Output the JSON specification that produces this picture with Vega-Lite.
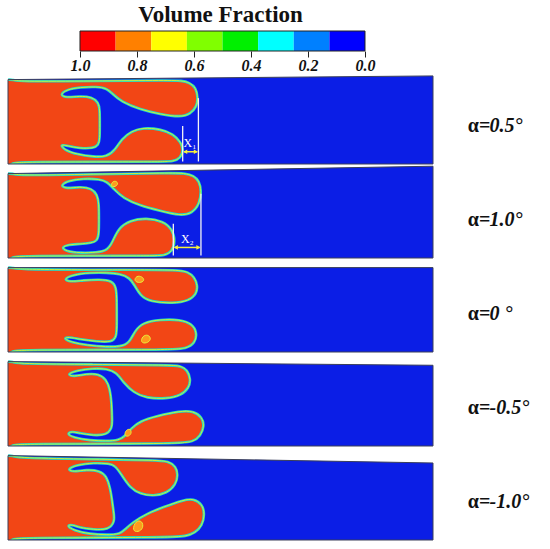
{
  "$schema": "https://vega.github.io/schema/vega-lite/v6.json",
  "background": "white",
  "padding": {"left": 6, "top": 3, "right": 0, "bottom": 0},
  "config": {"view": {"stroke": null}, "mark": {"invalid": null}},
  "bounds": "flush",
  "spacing": 21,
  "vconcat": [
    {
      "width": 425,
      "height": 20,
      "title": {"text": "Volume Fraction", "anchor": "middle", "font": "Liberation Serif", "fontSize": 23, "fontWeight": "bold", "color": "#111", "offset": 4},
      "layer": [
        {
          "data": {"values": [
            {"lo": 0.875, "hi": 1.0, "band": 1},
            {"lo": 0.75, "hi": 0.875, "band": 2},
            {"lo": 0.625, "hi": 0.75, "band": 3},
            {"lo": 0.5, "hi": 0.625, "band": 4},
            {"lo": 0.375, "hi": 0.5, "band": 5},
            {"lo": 0.25, "hi": 0.375, "band": 6},
            {"lo": 0.125, "hi": 0.25, "band": 7},
            {"lo": 0.0, "hi": 0.125, "band": 8}
          ]},
          "mark": {"type": "rect"},
          "encoding": {
            "x": {"field": "lo", "type": "quantitative",
                  "scale": {"domain": [-0.2386, 1.2526], "reverse": true, "nice": false, "zero": false},
                  "axis": {"values": [0, 0.2, 0.4, 0.6, 0.8, 1], "format": ".1f", "domain": false, "grid": false, "title": null,
                           "tickSize": 6, "tickColor": "#222", "labelPadding": 0,
                           "labelFont": "Liberation Serif", "labelFontSize": 16, "labelFontWeight": "bold", "labelFontStyle": "italic", "labelColor": "#111"}},
            "x2": {"field": "hi"},
            "color": {"field": "band", "type": "ordinal",
                      "scale": {"domain": [1, 2, 3, 4, 5, 6, 7, 8], "range": ["#ff0000", "#ff8000", "#ffff00", "#80ff00", "#00f000", "#00ffff", "#0080ff", "#0000ff"]},
                      "legend": null}
          }
        },
        {
          "data": {"values": [{"lo": 0.0, "hi": 1.0}]},
          "mark": {"type": "rect", "filled": false, "stroke": "#222", "strokeWidth": 1},
          "encoding": {
            "x": {"field": "lo", "type": "quantitative"},
            "x2": {"field": "hi"}
          }
        }
      ]
    },
    {
      "data": {"values": [
        {"c":"A","k":"N","t":"0.5°"},{"c":"B","k":"N","t":"1.0°"},{"c":"C","k":"N","t":"0 °"},{"c":"D","k":"N","t":"-0.5°"},{"c":"E","k":"N","t":"-1.0°"},

        {"c":"A","k":"W","i":1,"x":0,"y":0},{"c":"A","k":"W","i":2,"x":100,"y":0},{"c":"A","k":"W","i":3,"x":100,"y":20.87},{"c":"A","k":"W","i":4,"x":0,"y":20},
        {"c":"B","k":"W","i":1,"x":0,"y":0},{"c":"B","k":"W","i":2,"x":100,"y":0},{"c":"B","k":"W","i":3,"x":100,"y":21.75},{"c":"B","k":"W","i":4,"x":0,"y":20},
        {"c":"C","k":"W","i":1,"x":0,"y":0},{"c":"C","k":"W","i":2,"x":100,"y":0},{"c":"C","k":"W","i":3,"x":100,"y":20},{"c":"C","k":"W","i":4,"x":0,"y":20},
        {"c":"D","k":"W","i":1,"x":0,"y":0},{"c":"D","k":"W","i":2,"x":100,"y":0},{"c":"D","k":"W","i":3,"x":100,"y":19.13},{"c":"D","k":"W","i":4,"x":0,"y":20},
        {"c":"E","k":"W","i":1,"x":0,"y":0},{"c":"E","k":"W","i":2,"x":100,"y":0},{"c":"E","k":"W","i":3,"x":100,"y":18.25},{"c":"E","k":"W","i":4,"x":0,"y":20},

        {"c":"A","k":"L","i":1,"x":-1,"y":-1},{"c":"A","k":"L","i":2,"x":-1,"y":9},{"c":"A","k":"L","i":3,"x":-1,"y":19.8},{"c":"A","k":"L","i":4,"x":-0.3,"y":20},
        {"c":"A","k":"L","i":5,"x":1.2,"y":20},{"c":"A","k":"L","i":6,"x":2.2,"y":19.52},{"c":"A","k":"L","i":7,"x":20,"y":19.67},{"c":"A","k":"L","i":8,"x":38,"y":19.83},
        {"c":"A","k":"L","i":9,"x":40.8,"y":19.75},{"c":"A","k":"L","i":10,"x":42.7,"y":19.3},{"c":"A","k":"L","i":11,"x":44.2,"y":18.1},{"c":"A","k":"L","i":12,"x":44.7,"y":15.7},
        {"c":"A","k":"L","i":13,"x":44.4,"y":13.6},{"c":"A","k":"L","i":14,"x":42.9,"y":11.8},{"c":"A","k":"L","i":15,"x":40.5,"y":11.1},{"c":"A","k":"L","i":16,"x":35.8,"y":11.8},
        {"c":"A","k":"L","i":17,"x":31.1,"y":12.9},{"c":"A","k":"L","i":18,"x":26.6,"y":14.8},{"c":"A","k":"L","i":19,"x":24.6,"y":16.6},{"c":"A","k":"L","i":20,"x":23.3,"y":17.9},
        {"c":"A","k":"L","i":21,"x":20.9,"y":18.35},{"c":"A","k":"L","i":22,"x":16.9,"y":18.15},{"c":"A","k":"L","i":23,"x":14.0,"y":17.7},{"c":"A","k":"L","i":24,"x":12.1,"y":16.4},
        {"c":"A","k":"L","i":25,"x":13.7,"y":15.7},{"c":"A","k":"L","i":26,"x":16.9,"y":16.1},{"c":"A","k":"L","i":27,"x":19.7,"y":15.9},{"c":"A","k":"L","i":28,"x":21.3,"y":14.6},
        {"c":"A","k":"L","i":29,"x":21.6,"y":12.8},{"c":"A","k":"L","i":30,"x":21.6,"y":9.6},{"c":"A","k":"L","i":31,"x":21.6,"y":5.9},{"c":"A","k":"L","i":32,"x":21.3,"y":4.5},
        {"c":"A","k":"L","i":33,"x":20.1,"y":3.7},{"c":"A","k":"L","i":34,"x":16.9,"y":3.7},{"c":"A","k":"L","i":35,"x":14.0,"y":4.3},{"c":"A","k":"L","i":36,"x":12.2,"y":4.7},
        {"c":"A","k":"L","i":37,"x":13.3,"y":3.3},{"c":"A","k":"L","i":38,"x":16.2,"y":2.3},{"c":"A","k":"L","i":39,"x":20.1,"y":1.7},{"c":"A","k":"L","i":40,"x":23.2,"y":1.7},
        {"c":"A","k":"L","i":41,"x":25.2,"y":3.3},{"c":"A","k":"L","i":42,"x":26.7,"y":5.9},{"c":"A","k":"L","i":43,"x":29.1,"y":7.8},{"c":"A","k":"L","i":44,"x":31.8,"y":8.6},
        {"c":"A","k":"L","i":45,"x":35.8,"y":8.3},{"c":"A","k":"L","i":46,"x":38.9,"y":7.1},{"c":"A","k":"L","i":47,"x":40.7,"y":5.1},{"c":"A","k":"L","i":48,"x":41.3,"y":3.3},
        {"c":"A","k":"L","i":49,"x":40.6,"y":1.4},{"c":"A","k":"L","i":50,"x":38.9,"y":0.6},{"c":"A","k":"L","i":51,"x":36,"y":0.5},{"c":"A","k":"L","i":52,"x":2.2,"y":0.5},
        {"c":"A","k":"L","i":53,"x":1.2,"y":0.2},{"c":"A","k":"L","i":54,"x":0,"y":-0.6},

        {"c":"B","k":"L","i":1,"x":-1,"y":-1},{"c":"B","k":"L","i":2,"x":-1,"y":9},{"c":"B","k":"L","i":3,"x":-1,"y":19.8},{"c":"B","k":"L","i":4,"x":-0.3,"y":20},
        {"c":"B","k":"L","i":5,"x":1.2,"y":20.02},{"c":"B","k":"L","i":6,"x":2.2,"y":19.54},{"c":"B","k":"L","i":7,"x":20,"y":19.85},{"c":"B","k":"L","i":8,"x":38,"y":20.16},
        {"c":"B","k":"L","i":9,"x":41.5,"y":20.1},{"c":"B","k":"L","i":10,"x":43.7,"y":19.5},{"c":"B","k":"L","i":11,"x":45.0,"y":18.2},{"c":"B","k":"L","i":12,"x":45.5,"y":15.9},
        {"c":"B","k":"L","i":13,"x":45.1,"y":12.9},{"c":"B","k":"L","i":14,"x":43.4,"y":10.6},{"c":"B","k":"L","i":15,"x":40.5,"y":10.0},{"c":"B","k":"L","i":16,"x":35.8,"y":11.2},
        {"c":"B","k":"L","i":17,"x":31.1,"y":12.4},{"c":"B","k":"L","i":18,"x":27.1,"y":14.2},{"c":"B","k":"L","i":19,"x":24.8,"y":16.4},{"c":"B","k":"L","i":20,"x":23.4,"y":18.0},
        {"c":"B","k":"L","i":21,"x":21.6,"y":18.7},{"c":"B","k":"L","i":22,"x":17.7,"y":18.8},{"c":"B","k":"L","i":23,"x":14.4,"y":18.4},{"c":"B","k":"L","i":24,"x":12.2,"y":17.2},
        {"c":"B","k":"L","i":25,"x":13.7,"y":16.4},{"c":"B","k":"L","i":26,"x":16.9,"y":16.9},{"c":"B","k":"L","i":27,"x":19.7,"y":16.5},{"c":"B","k":"L","i":28,"x":21.0,"y":15.0},
        {"c":"B","k":"L","i":29,"x":21.4,"y":12.9},{"c":"B","k":"L","i":30,"x":21.4,"y":9},{"c":"B","k":"L","i":31,"x":21.4,"y":5.6},{"c":"B","k":"L","i":32,"x":20.9,"y":4.0},
        {"c":"B","k":"L","i":33,"x":19.7,"y":3.6},{"c":"B","k":"L","i":34,"x":16.9,"y":3.3},{"c":"B","k":"L","i":35,"x":14.2,"y":3.2},{"c":"B","k":"L","i":36,"x":12.5,"y":2.5},
        {"c":"B","k":"L","i":37,"x":13.7,"y":1.6},{"c":"B","k":"L","i":38,"x":16.9,"y":1.2},{"c":"B","k":"L","i":39,"x":20.9,"y":1.3},{"c":"B","k":"L","i":40,"x":23.4,"y":1.8},
        {"c":"B","k":"L","i":41,"x":24.6,"y":3.8},{"c":"B","k":"L","i":42,"x":26.0,"y":7.1},{"c":"B","k":"L","i":43,"x":28.7,"y":8.9},{"c":"B","k":"L","i":44,"x":32.6,"y":9.5},
        {"c":"B","k":"L","i":45,"x":36.5,"y":8.7},{"c":"B","k":"L","i":46,"x":38.6,"y":6.9},{"c":"B","k":"L","i":47,"x":39.4,"y":4.1},{"c":"B","k":"L","i":48,"x":38.6,"y":1.5},
        {"c":"B","k":"L","i":49,"x":36.9,"y":0.6},{"c":"B","k":"L","i":50,"x":34,"y":0.5},{"c":"B","k":"L","i":51,"x":2.2,"y":0.5},{"c":"B","k":"L","i":52,"x":1.2,"y":0.2},
        {"c":"B","k":"L","i":53,"x":0,"y":-0.6},

        {"c":"C","k":"L","i":1,"x":-1,"y":-1},{"c":"C","k":"L","i":2,"x":-1,"y":9},{"c":"C","k":"L","i":3,"x":-1,"y":19.8},{"c":"C","k":"L","i":4,"x":-0.3,"y":20},
        {"c":"C","k":"L","i":5,"x":1.2,"y":20},{"c":"C","k":"L","i":6,"x":2.2,"y":19.5},{"c":"C","k":"L","i":7,"x":30,"y":19.5},{"c":"C","k":"L","i":8,"x":40,"y":19.45},
        {"c":"C","k":"L","i":9,"x":42.3,"y":19.0},{"c":"C","k":"L","i":10,"x":43.9,"y":17.7},{"c":"C","k":"L","i":11,"x":44.6,"y":15.8},{"c":"C","k":"L","i":12,"x":44.4,"y":13.8},
        {"c":"C","k":"L","i":13,"x":42.5,"y":12.1},{"c":"C","k":"L","i":14,"x":38.9,"y":11.5},{"c":"C","k":"L","i":15,"x":33.4,"y":11.9},{"c":"C","k":"L","i":16,"x":31.1,"y":13.4},
        {"c":"C","k":"L","i":17,"x":29.8,"y":15.8},{"c":"C","k":"L","i":18,"x":28.6,"y":17.6},{"c":"C","k":"L","i":19,"x":26.4,"y":18.5},{"c":"C","k":"L","i":20,"x":23.2,"y":18.8},
        {"c":"C","k":"L","i":21,"x":19.3,"y":18.8},{"c":"C","k":"L","i":22,"x":15.2,"y":18.3},{"c":"C","k":"L","i":23,"x":13.0,"y":17.2},{"c":"C","k":"L","i":24,"x":14.6,"y":16.6},
        {"c":"C","k":"L","i":25,"x":17.7,"y":17.0},{"c":"C","k":"L","i":26,"x":21.6,"y":17.2},{"c":"C","k":"L","i":27,"x":24.4,"y":16.9},{"c":"C","k":"L","i":28,"x":25.5,"y":15.4},
        {"c":"C","k":"L","i":29,"x":25.6,"y":12},{"c":"C","k":"L","i":30,"x":25.6,"y":7},{"c":"C","k":"L","i":31,"x":25.6,"y":3.6},{"c":"C","k":"L","i":32,"x":24.4,"y":2.3},
        {"c":"C","k":"L","i":33,"x":20.9,"y":2.5},{"c":"C","k":"L","i":34,"x":16.9,"y":3.0},{"c":"C","k":"L","i":35,"x":14.2,"y":3.6},{"c":"C","k":"L","i":36,"x":13.0,"y":3.2},
        {"c":"C","k":"L","i":37,"x":15.0,"y":2.3},{"c":"C","k":"L","i":38,"x":18.5,"y":1.6},{"c":"C","k":"L","i":39,"x":23.2,"y":1.2},{"c":"C","k":"L","i":40,"x":26.4,"y":1.3},
        {"c":"C","k":"L","i":41,"x":28.5,"y":2.0},{"c":"C","k":"L","i":42,"x":29.8,"y":5.0},{"c":"C","k":"L","i":43,"x":31.8,"y":7.0},{"c":"C","k":"L","i":44,"x":35.8,"y":7.7},
        {"c":"C","k":"L","i":45,"x":40.5,"y":7.7},{"c":"C","k":"L","i":46,"x":43.3,"y":6.7},{"c":"C","k":"L","i":47,"x":44.5,"y":4.6},{"c":"C","k":"L","i":48,"x":44.0,"y":2.1},
        {"c":"C","k":"L","i":49,"x":42.0,"y":0.8},{"c":"C","k":"L","i":50,"x":38,"y":0.5},{"c":"C","k":"L","i":51,"x":2.2,"y":0.5},{"c":"C","k":"L","i":52,"x":1.2,"y":0.2},
        {"c":"C","k":"L","i":53,"x":0,"y":-0.6},

        {"c":"D","k":"L","i":1,"x":-1,"y":-1},{"c":"D","k":"L","i":2,"x":-1,"y":9},{"c":"D","k":"L","i":3,"x":-1,"y":19.8},{"c":"D","k":"L","i":4,"x":-0.3,"y":20},
        {"c":"D","k":"L","i":5,"x":1.2,"y":19.99},{"c":"D","k":"L","i":6,"x":2.2,"y":19.48},{"c":"D","k":"L","i":7,"x":20,"y":19.33},{"c":"D","k":"L","i":8,"x":38,"y":19.17},
        {"c":"D","k":"L","i":9,"x":40.7,"y":19.0},{"c":"D","k":"L","i":10,"x":42.2,"y":18.0},{"c":"D","k":"L","i":11,"x":43.0,"y":15.8},{"c":"D","k":"L","i":12,"x":42.6,"y":13.8},
        {"c":"D","k":"L","i":13,"x":40.6,"y":11.9},{"c":"D","k":"L","i":14,"x":37.3,"y":11.2},{"c":"D","k":"L","i":15,"x":32.6,"y":11.3},{"c":"D","k":"L","i":16,"x":29.5,"y":12.7},
        {"c":"D","k":"L","i":17,"x":27.1,"y":15.1},{"c":"D","k":"L","i":18,"x":25.6,"y":17.4},{"c":"D","k":"L","i":19,"x":23.2,"y":18.3},{"c":"D","k":"L","i":20,"x":20.1,"y":18.4},
        {"c":"D","k":"L","i":21,"x":16.2,"y":17.9},{"c":"D","k":"L","i":22,"x":13.8,"y":17.0},{"c":"D","k":"L","i":23,"x":15.4,"y":16.4},{"c":"D","k":"L","i":24,"x":18.5,"y":17.1},
        {"c":"D","k":"L","i":25,"x":21.3,"y":17.1},{"c":"D","k":"L","i":26,"x":23.1,"y":15.8},{"c":"D","k":"L","i":27,"x":24.0,"y":13.5},{"c":"D","k":"L","i":28,"x":24.4,"y":10},
        {"c":"D","k":"L","i":29,"x":24.5,"y":6},{"c":"D","k":"L","i":30,"x":24.5,"y":4.3},{"c":"D","k":"L","i":31,"x":23.2,"y":2.6},{"c":"D","k":"L","i":32,"x":20.1,"y":2.5},
        {"c":"D","k":"L","i":33,"x":16.9,"y":3.0},{"c":"D","k":"L","i":34,"x":15.0,"y":3.5},{"c":"D","k":"L","i":35,"x":13.8,"y":2.9},{"c":"D","k":"L","i":36,"x":15.4,"y":2.0},
        {"c":"D","k":"L","i":37,"x":19.3,"y":1.3},{"c":"D","k":"L","i":38,"x":23.2,"y":1.2},{"c":"D","k":"L","i":39,"x":26.0,"y":1.3},{"c":"D","k":"L","i":40,"x":27.6,"y":2.4},
        {"c":"D","k":"L","i":41,"x":28.9,"y":4.1},{"c":"D","k":"L","i":42,"x":31.1,"y":5.9},{"c":"D","k":"L","i":43,"x":35.0,"y":7.1},{"c":"D","k":"L","i":44,"x":40.5,"y":8.3},
        {"c":"D","k":"L","i":45,"x":43.6,"y":8.3},{"c":"D","k":"L","i":46,"x":45.7,"y":6.8},{"c":"D","k":"L","i":47,"x":46.2,"y":4.8},{"c":"D","k":"L","i":48,"x":45.3,"y":2.4},
        {"c":"D","k":"L","i":49,"x":43.6,"y":1.0},{"c":"D","k":"L","i":50,"x":40,"y":0.5},{"c":"D","k":"L","i":51,"x":2.2,"y":0.5},{"c":"D","k":"L","i":52,"x":1.2,"y":0.2},
        {"c":"D","k":"L","i":53,"x":0,"y":-0.6},

        {"c":"E","k":"L","i":1,"x":-1,"y":-1},{"c":"E","k":"L","i":2,"x":-1,"y":9},{"c":"E","k":"L","i":3,"x":-1,"y":19.8},{"c":"E","k":"L","i":4,"x":-0.3,"y":20},
        {"c":"E","k":"L","i":5,"x":1.2,"y":19.98},{"c":"E","k":"L","i":6,"x":2.2,"y":19.46},{"c":"E","k":"L","i":7,"x":20,"y":19.15},{"c":"E","k":"L","i":8,"x":35,"y":18.89},
        {"c":"E","k":"L","i":9,"x":37.8,"y":18.65},{"c":"E","k":"L","i":10,"x":39.5,"y":17.4},{"c":"E","k":"L","i":11,"x":40.0,"y":15.5},{"c":"E","k":"L","i":12,"x":39.5,"y":13.1},
        {"c":"E","k":"L","i":13,"x":37.4,"y":11.1},{"c":"E","k":"L","i":14,"x":34.2,"y":10.4},{"c":"E","k":"L","i":15,"x":31.1,"y":10.9},{"c":"E","k":"L","i":16,"x":28.7,"y":12.4},
        {"c":"E","k":"L","i":17,"x":26.7,"y":15.5},{"c":"E","k":"L","i":18,"x":25.2,"y":17.6},{"c":"E","k":"L","i":19,"x":24.0,"y":18.1},{"c":"E","k":"L","i":20,"x":20.1,"y":18.3},
        {"c":"E","k":"L","i":21,"x":16.2,"y":17.8},{"c":"E","k":"L","i":22,"x":13.8,"y":16.7},{"c":"E","k":"L","i":23,"x":15.4,"y":16.1},{"c":"E","k":"L","i":24,"x":18.5,"y":16.7},
        {"c":"E","k":"L","i":25,"x":21.6,"y":16.4},{"c":"E","k":"L","i":26,"x":23.2,"y":15.1},{"c":"E","k":"L","i":27,"x":24.0,"y":12.4},{"c":"E","k":"L","i":28,"x":24.4,"y":10.1},
        {"c":"E","k":"L","i":29,"x":24.8,"y":7.0},{"c":"E","k":"L","i":30,"x":25.2,"y":4.3},{"c":"E","k":"L","i":31,"x":23.6,"y":2.4},{"c":"E","k":"L","i":32,"x":20.1,"y":2.5},
        {"c":"E","k":"L","i":33,"x":16.9,"y":2.9},{"c":"E","k":"L","i":34,"x":15.0,"y":3.7},{"c":"E","k":"L","i":35,"x":13.8,"y":3.4},{"c":"E","k":"L","i":36,"x":15.4,"y":2.3},
        {"c":"E","k":"L","i":37,"x":19.3,"y":1.4},{"c":"E","k":"L","i":38,"x":23.2,"y":1.2},{"c":"E","k":"L","i":39,"x":26.4,"y":1.4},{"c":"E","k":"L","i":40,"x":27.6,"y":2.6},
        {"c":"E","k":"L","i":41,"x":29.5,"y":4.3},{"c":"E","k":"L","i":42,"x":32.6,"y":6.2},{"c":"E","k":"L","i":43,"x":36.5,"y":7.8},{"c":"E","k":"L","i":44,"x":41.3,"y":9.5},
        {"c":"E","k":"L","i":45,"x":43.6,"y":9.8},{"c":"E","k":"L","i":46,"x":45.7,"y":8.5},{"c":"E","k":"L","i":47,"x":46.3,"y":6.2},{"c":"E","k":"L","i":48,"x":45.7,"y":3.4},
        {"c":"E","k":"L","i":49,"x":44.0,"y":1.7},{"c":"E","k":"L","i":50,"x":42.0,"y":0.9},{"c":"E","k":"L","i":51,"x":38,"y":0.6},{"c":"E","k":"L","i":52,"x":2.2,"y":0.5},
        {"c":"E","k":"L","i":53,"x":1.2,"y":0.2},{"c":"E","k":"L","i":54,"x":0,"y":-0.6},

        {"c":"B","k":"P","p":1,"i":1,"x":24.2,"y":17.0},{"c":"B","k":"P","p":1,"i":2,"x":25.2,"y":16.8},{"c":"B","k":"P","p":1,"i":3,"x":26.0,"y":17.6},{"c":"B","k":"P","p":1,"i":4,"x":25.4,"y":18.3},{"c":"B","k":"P","p":1,"i":5,"x":24.5,"y":18.1},
        {"c":"C","k":"P","p":1,"i":1,"x":29.6,"y":16.8},{"c":"C","k":"P","p":1,"i":2,"x":31.0,"y":16.3},{"c":"C","k":"P","p":1,"i":3,"x":32.2,"y":16.9},{"c":"C","k":"P","p":1,"i":4,"x":31.6,"y":17.9},{"c":"C","k":"P","p":1,"i":5,"x":30.2,"y":18.1},
        {"c":"C","k":"P","p":2,"i":1,"x":31.2,"y":2.2},{"c":"C","k":"P","p":2,"i":2,"x":32.6,"y":2.0},{"c":"C","k":"P","p":2,"i":3,"x":33.8,"y":3.0},{"c":"C","k":"P","p":2,"i":4,"x":33.0,"y":4.2},{"c":"C","k":"P","p":2,"i":5,"x":31.6,"y":3.8},
        {"c":"D","k":"P","p":1,"i":1,"x":27.4,"y":2.4},{"c":"D","k":"P","p":1,"i":2,"x":28.4,"y":2.2},{"c":"D","k":"P","p":1,"i":3,"x":29.2,"y":3.2},{"c":"D","k":"P","p":1,"i":4,"x":28.6,"y":4.2},{"c":"D","k":"P","p":1,"i":5,"x":27.6,"y":3.6},
        {"c":"E","k":"P","p":1,"i":1,"x":29.2,"y":2.2},{"c":"E","k":"P","p":1,"i":2,"x":30.6,"y":1.8},{"c":"E","k":"P","p":1,"i":3,"x":31.9,"y":2.8},{"c":"E","k":"P","p":1,"i":4,"x":31.6,"y":4.6},{"c":"E","k":"P","p":1,"i":5,"x":30.0,"y":4.6},

        {"c":"A","k":"V","x":41.1,"y":0.6,"y2":9.0},{"c":"A","k":"V","x":44.8,"y":0.6,"y2":15.6},
        {"c":"A","k":"R","x":41.4,"x2":44.5,"y":2.9},
        {"c":"A","k":"H","x":41.7,"y":2.9,"d":"l"},{"c":"A","k":"H","x":44.2,"y":2.9,"d":"r"},
        {"c":"A","k":"T","x":42.8,"y":5.0,"t":"X₁"},
        {"c":"B","k":"V","x":38.9,"y":0.6,"y2":8.1},{"c":"B","k":"V","x":45.4,"y":0.6,"y2":15.2},
        {"c":"B","k":"R","x":39.2,"x2":45.1,"y":2.5},
        {"c":"B","k":"H","x":39.5,"y":2.5,"d":"l"},{"c":"B","k":"H","x":44.8,"y":2.5,"d":"r"},
        {"c":"B","k":"T","x":42.2,"y":4.6,"t":"X₂"}
      ]},
      "facet": {
        "row": {"field": "c", "type": "nominal", "title": null, "header": {"labels": false}}
      },
      "spacing": 2,
      "bounds": "flush",
      "spec": {
        "width": 544,
        "height": 92,
        "layer": [
          {
            "transform": [{"filter": "datum.k == 'W'"}],
            "mark": {"type": "line", "interpolate": "linear-closed", "fill": "#0b1ee6", "stroke": null},
            "encoding": {
              "x": {"field": "x", "type": "quantitative", "scale": {"domain": [0, 128], "nice": false, "zero": false}, "axis": null},
              "y": {"field": "y", "type": "quantitative", "scale": {"domain": [0, 21.8], "nice": false, "zero": false}, "axis": null},
              "order": {"field": "i", "type": "quantitative"}
            }
          },
          {
            "transform": [{"filter": "datum.k == 'L'"}],
            "mark": {"type": "line", "interpolate": "basis-closed", "fill": "#f24615", "stroke": "#22d8c8", "strokeWidth": 2.6, "clip": true},
            "encoding": {
              "x": {"field": "x", "type": "quantitative", "scale": {"domain": [0, 128], "nice": false, "zero": false}, "axis": null},
              "y": {"field": "y", "type": "quantitative", "scale": {"domain": [0, 21.8], "nice": false, "zero": false}, "axis": null},
              "order": {"field": "i", "type": "quantitative"}
            }
          },
          {
            "transform": [{"filter": "datum.k == 'L'"}],
            "mark": {"type": "line", "interpolate": "basis-closed", "stroke": "#c8f03c", "strokeWidth": 1, "clip": true},
            "encoding": {
              "x": {"field": "x", "type": "quantitative", "scale": {"domain": [0, 128], "nice": false, "zero": false}, "axis": null},
              "y": {"field": "y", "type": "quantitative", "scale": {"domain": [0, 21.8], "nice": false, "zero": false}, "axis": null},
              "order": {"field": "i", "type": "quantitative"}
            }
          },
          {
            "transform": [{"filter": "datum.k == 'P'"}],
            "mark": {"type": "line", "interpolate": "basis-closed", "fill": "#ff9a1e", "stroke": "#e8ee3a", "strokeWidth": 1},
            "encoding": {
              "x": {"field": "x", "type": "quantitative", "scale": {"domain": [0, 128], "nice": false, "zero": false}, "axis": null},
              "y": {"field": "y", "type": "quantitative", "scale": {"domain": [0, 21.8], "nice": false, "zero": false}, "axis": null},
              "order": {"field": "i", "type": "quantitative"},
              "detail": {"field": "p", "type": "nominal"}
            }
          },
          {
            "transform": [{"filter": "datum.k == 'W'"}],
            "mark": {"type": "line", "interpolate": "linear-closed", "stroke": "#3a3f5a", "strokeWidth": 1},
            "encoding": {
              "x": {"field": "x", "type": "quantitative", "scale": {"domain": [0, 128], "nice": false, "zero": false}, "axis": null},
              "y": {"field": "y", "type": "quantitative", "scale": {"domain": [0, 21.8], "nice": false, "zero": false}, "axis": null},
              "order": {"field": "i", "type": "quantitative"}
            }
          },
          {
            "transform": [{"filter": "datum.k == 'V'"}],
            "mark": {"type": "rule", "color": "#f4f4f4", "strokeWidth": 1.3},
            "encoding": {
              "x": {"field": "x", "type": "quantitative", "scale": {"domain": [0, 128], "nice": false, "zero": false}, "axis": null},
              "y": {"field": "y", "type": "quantitative", "scale": {"domain": [0, 21.8], "nice": false, "zero": false}, "axis": null},
              "y2": {"field": "y2"}
            }
          },
          {
            "transform": [{"filter": "datum.k == 'R'"}],
            "mark": {"type": "rule", "color": "#f5f23a", "strokeWidth": 1.5},
            "encoding": {
              "x": {"field": "x", "type": "quantitative", "scale": {"domain": [0, 128], "nice": false, "zero": false}, "axis": null},
              "y": {"field": "y", "type": "quantitative", "scale": {"domain": [0, 21.8], "nice": false, "zero": false}, "axis": null},
              "x2": {"field": "x2"}
            }
          },
          {
            "transform": [{"filter": "datum.k == 'H'"}],
            "mark": {"type": "point", "filled": true, "color": "#f5f23a", "opacity": 1, "size": 22},
            "encoding": {
              "x": {"field": "x", "type": "quantitative", "scale": {"domain": [0, 128], "nice": false, "zero": false}, "axis": null},
              "y": {"field": "y", "type": "quantitative", "scale": {"domain": [0, 21.8], "nice": false, "zero": false}, "axis": null},
              "shape": {"field": "d", "type": "nominal", "scale": {"domain": ["l", "r"], "range": ["triangle-left", "triangle-right"]}, "legend": null}
            }
          },
          {
            "transform": [{"filter": "datum.k == 'T'"}],
            "mark": {"type": "text", "color": "#ffffff", "font": "Liberation Serif", "fontSize": 12},
            "encoding": {
              "x": {"field": "x", "type": "quantitative", "scale": {"domain": [0, 128], "nice": false, "zero": false}, "axis": null},
              "y": {"field": "y", "type": "quantitative", "scale": {"domain": [0, 21.8], "nice": false, "zero": false}, "axis": null},
              "text": {"field": "t"}
            }
          },
          {
            "transform": [{"filter": "datum.k == 'N'"}],
            "mark": {"type": "text", "text": "α=", "align": "left", "baseline": "middle", "font": "Liberation Serif", "fontSize": 20, "fontWeight": "bold", "color": "#111"},
            "encoding": {"x": {"datum": 108.2}, "y": {"datum": 9}}
          },
          {
            "transform": [{"filter": "datum.k == 'N'"}],
            "mark": {"type": "text", "align": "left", "baseline": "middle", "font": "Liberation Serif", "fontSize": 20, "fontWeight": "bold", "fontStyle": "italic", "color": "#111"},
            "encoding": {"x": {"datum": 113.3}, "y": {"datum": 9}, "text": {"field": "t"}}
          }
        ]
      }
    }
  ]
}
